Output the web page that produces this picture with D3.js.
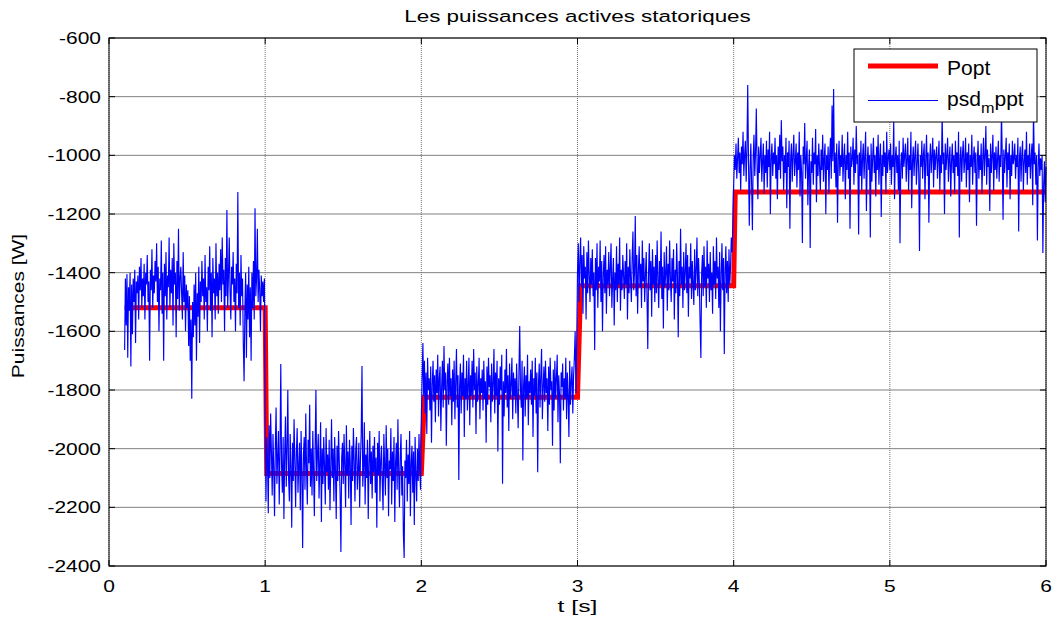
<!DOCTYPE html>
<html>
<head>
<meta charset="utf-8">
<script src="https://cdn.jsdelivr.net/npm/d3@7"></script>
<style>
  body { margin: 0; background: #fff; }
  text { font-family: "Liberation Sans", Arial, sans-serif; fill: #000; }
</style>
</head>
<body>
<div id="chart"></div>
<script>
// Les puissances actives statoriques — Popt step reference vs measured psd_mppt

const xTicks = [0, 1, 2, 3, 4, 5, 6];
const yTicks = [-2400, -2200, -2000, -1800, -1600, -1400, -1200, -1000, -800, -600];

// Popt (red step)
const poptT = [0.10, 1.00, 1.01, 2.00, 2.02, 3.00, 3.02, 4.00, 4.01, 6.00];
const poptP = [-1520, -1520, -2085, -2085, -1825, -1825, -1445, -1445, -1125, -1125];

// psd_mppt (blue), one sample every dt seconds, one array per operating point
const dt = 0.005;
const seg1Start = 0.10;
const seg1 = [
  -1664,-1420,-1580,-1405,-1690,-1450,-1530,-1400,-1720,-1440,-1610,-1420,-1500,-1390,-1640,-1430,-1470,-1410,-1560,-1380,
  -1460,-1350,-1520,-1420,-1480,-1370,-1560,-1400,-1440,-1340,-1500,-1430,-1700,-1390,-1460,-1320,-1520,-1410,-1470,-1360,
  -1430,-1300,-1500,-1380,-1600,-1420,-1460,-1290,-1540,-1400,-1700,-1370,-1480,-1330,-1560,-1410,-1450,-1280,-1520,-1390,
  -1470,-1350,-1580,-1300,-1440,-1400,-1620,-1360,-1490,-1250,-1530,-1420,-1380,-1470,-1560,-1330,-1500,-1410,-1600,-1440,
  -1520,-1460,-1650,-1480,-1700,-1560,-1830,-1500,-1620,-1440,-1580,-1400,-1700,-1470,-1550,-1380,-1640,-1430,-1500,-1360,
  -1480,-1420,-1560,-1340,-1500,-1450,-1600,-1380,-1460,-1310,-1530,-1400,-1620,-1350,-1470,-1420,-1560,-1300,-1480,-1400,
  -1540,-1370,-1460,-1320,-1500,-1280,-1440,-1390,-1600,-1350,-1480,-1186,-1520,-1410,-1280,-1460,-1560,-1380,-1440,-1330,
  -1500,-1420,-1600,-1370,-1470,-1125,-1520,-1400,-1580,-1340,-1480,-1420,-1640,-1770,-1530,-1400,-1690,-1440,-1560,-1380,
  -1620,-1450,-1700,-1400,-1520,-1360,-1560,-1180,-1480,-1420,-1250,-1500,-1390,-1460,-1600,-1410,-1480,-1430,-1500,-1420
];
const seg2Start = 1.00;
const seg2 = [
  -1900,-2180,-1960,-2040,-2220,-1920,-2100,-1880,-2010,-2160,-1950,-2070,-2230,-1990,-1860,-2120,-2030,-1940,-2190,-2010,
  -1711,-2060,-2150,-1960,-2240,-2020,-1890,-2130,-2000,-1800,-2100,-2180,-1950,-2060,-2270,-1980,-2110,-1900,-2040,-2200,
  -2010,-1930,-2150,-2060,-1980,-2210,-1940,-2090,-2339,-2020,-1960,-2140,-1880,-2070,-2190,-1970,-2050,-1850,-2130,-2000,
  -2160,-1940,-2080,-2230,-1990,-1800,-2110,-2020,-1950,-2170,-2050,-1910,-2250,-2000,-2120,-1960,-2060,-2190,-1930,-2080,
  -2020,-2140,-1970,-2210,-2060,-1900,-2100,-2000,-2180,-1960,-2070,-2240,-1990,-2110,-1940,-2050,-2160,-2352,-2030,-1980,
  -2120,-1950,-2060,-2200,-1920,-2090,-2010,-2170,-1970,-2050,-2260,-1990,-2110,-1930,-2040,-2180,-2000,-1960,-2140,-2070,
  -1980,-2200,-2040,-1950,-1718,-2130,-2060,-1910,-2190,-2020,-2100,-1970,-2240,-2050,-1940,-2120,-2010,-2170,-1990,-2080,
  -1960,-2150,-2030,-2270,-1980,-2090,-1940,-2180,-2040,-1990,-2120,-2210,-1950,-2060,-2160,-1920,-2100,-2000,-2230,-2040,
  -2070,-1930,-2190,-2010,-2110,-1960,-2250,-2050,-1980,-2140,-1900,-2080,-2200,-2020,-1950,-2160,-2060,-2290,-2373,-2040,
  -2100,-1970,-2180,-2020,-2120,-1940,-2230,-2050,-1990,-2150,-2010,-2260,-1960,-2090,-2180,-2000,-2110,-1950,-2070,-2140
];
const seg3Start = 2.00;
const seg3 = [
  -1900,-1760,-1640,-1820,-1700,-1880,-1740,-1950,-1690,-1800,-1760,-1870,-1720,-1980,-1780,-1700,-1840,-1750,-1910,-1730,
  -1810,-1680,-1890,-1760,-1720,-1940,-1790,-1700,-1860,-1650,-1800,-1740,-1990,-1770,-1710,-1850,-1690,-1820,-1760,-1920,
  -1730,-1840,-1700,-1900,-1770,-1660,-1860,-1750,-2107,-1790,-1710,-1880,-1740,-1820,-1680,-1960,-1760,-1830,-1700,-1870,
  -1780,-1690,-1920,-1750,-1820,-1700,-1860,-1660,-1800,-1740,-1950,-1720,-1840,-1780,-1690,-1900,-1760,-1810,-1730,-1870,
  -1700,-1830,-1770,-1980,-1720,-1850,-1690,-1790,-1750,-1910,-1710,-1840,-1780,-1660,-1880,-1740,-1820,-1700,-2010,-1760,
  -1850,-1720,-1800,-1680,-2120,-1770,-1890,-1730,-1810,-1660,-1860,-1750,-1940,-1710,-1830,-1780,-1690,-1900,-1740,-1820,
  -1760,-1880,-1710,-1820,-1930,-1740,-1582,-1800,-1860,-1700,-2040,-1780,-1720,-1890,-1750,-1830,-1680,-1920,-1770,-1810,
  -1730,-1850,-1700,-1960,-1760,-1820,-1690,-1880,-1740,-2080,-1780,-1710,-1860,-1750,-1660,-1900,-1790,-1720,-1840,-1700,
  -1810,-1760,-1940,-1720,-1850,-1690,-1800,-1770,-1990,-1730,-1870,-1700,-1830,-1760,-1680,-1910,-1750,-1820,-2050,-1740,
  -1790,-1710,-1870,-1760,-1830,-1690,-1900,-1740,-1820,-1960,-1700,-1850,-1770,-1720,-1880,-1750,-1690,-1600,-1810,-1640
];
const seg4Start = 3.00;
const seg4 = [
  -1400,-1300,-1500,-1360,-1280,-1450,-1340,-1540,-1310,-1420,-1380,-1560,-1330,-1470,-1290,-1410,-1500,-1350,-1440,-1320,
  -1480,-1400,-1664,-1350,-1460,-1300,-1520,-1380,-1430,-1290,-1500,-1360,-1600,-1410,-1340,-1470,-1310,-1540,-1390,-1440,
  -1330,-1480,-1380,-1300,-1520,-1420,-1350,-1580,-1400,-1460,-1310,-1500,-1370,-1440,-1280,-1530,-1390,-1460,-1340,-1410,
  -1490,-1360,-1440,-1300,-1560,-1380,-1470,-1320,-1420,-1500,-1350,-1260,-1460,-1400,-1207,-1480,-1340,-1540,-1390,-1310,
  -1450,-1370,-1520,-1290,-1430,-1350,-1500,-1410,-1330,-1480,-1660,-1400,-1300,-1460,-1360,-1550,-1320,-1440,-1380,-1500,
  -1340,-1470,-1290,-1420,-1520,-1360,-1440,-1260,-1490,-1380,-1590,-1330,-1450,-1400,-1310,-1530,-1370,-1460,-1290,-1420,
  -1500,-1350,-1430,-1320,-1560,-1390,-1470,-1300,-1410,-1620,-1360,-1480,-1250,-1440,-1380,-1520,-1330,-1460,-1400,-1300,
  -1470,-1340,-1550,-1380,-1420,-1300,-1490,-1360,-1440,-1510,-1320,-1460,-1390,-1280,-1480,-1350,-1430,-1570,-1691,-1400,
  -1340,-1480,-1310,-1450,-1380,-1520,-1290,-1420,-1370,-1500,-1330,-1460,-1400,-1540,-1310,-1440,-1360,-1490,-1280,-1420,
  -1380,-1520,-1330,-1600,-1410,-1300,-1460,-1350,-1677,-1390,-1310,-1470,-1360,-1500,-1320,-1440,-1380,-1280,-1330,-1240
];
const seg5Start = 4.00;
const seg5 = [
  -1100,-1000,-1050,-960,-1080,-1010,-940,-1060,-990,-1120,-970,-1030,-920,-1070,-1000,-950,-1090,-980,-760,-1020,
  -1240,-1050,-960,-1100,-1255,-1010,-930,-1070,-990,-840,-1040,-1150,-970,-1060,-1000,-940,-1090,-1020,-960,-1130,
  -1000,-1060,-950,-1110,-980,-1040,-920,-1200,-1010,-960,-1070,-990,-1030,-940,-1080,-1000,-1150,-970,-1050,-930,
  -1080,-880,-1020,-970,-1120,-1000,-1060,-940,-1180,-990,-1040,-950,-1250,-1010,-960,-1090,-1000,-930,-1070,-1020,
  -960,-1110,-990,-1050,-920,-1140,-1000,-1060,-1299,-970,-1030,-890,-1080,-1010,-950,-1170,-1040,-980,-1316,-1020,
  -1060,-940,-1100,-990,-1030,-910,-1160,-1000,-1070,-960,-1040,-1120,-980,-1050,-930,-1090,-1010,-960,-1200,-1000,
  -1050,-970,-1130,-1000,-940,-1080,-830,-1020,-774,-1060,-990,-1110,-960,-1230,-1010,-950,-1070,-1000,-1040,-930,
  -1090,-1010,-960,-1150,-1000,-1050,-920,-1080,-990,-1250,-970,-1040,-1010,-940,-1100,-980,-1060,-900,-1030,-1000,
  -1270,-990,-1070,-950,-1120,-1010,-960,-1080,-1000,-920,-1190,-1030,-970,-1050,-1000,-1280,-960,-1090,-1010,-940,
  -1060,-1000,-1140,-970,-1050,-930,-1100,-1010,-960,-1210,-1000,-1070,-950,-1040,-990,-1130,-920,-1060,-1010,-980,
  -1050,-960,-1100,-1000,-1040,-880,-1150,-1010,-970,-1060,-1000,-1120,-950,-1300,-1030,-990,-1080,-940,-1040,-1000,
  -960,-1090,-1010,-940,-1120,-1000,-1050,-920,-1180,-1020,-970,-1070,-1000,-950,-1100,-1030,-960,-1060,-1326,-1000,
  -1040,-950,-1080,-1000,-960,-1150,-1010,-930,-1070,-990,-1230,-1020,-960,-1060,-1000,-940,-1110,-980,-1050,-1000,
  -970,-1080,-1010,-950,-1120,-1000,-1060,-860,-1030,-990,-1200,-960,-1050,-1000,-940,-1090,-1010,-970,-1140,-1020,
  -960,-1060,-1000,-1130,-950,-1040,-990,-1070,-920,-1280,-1010,-970,-1090,-1000,-950,-1060,-1020,-940,-1110,-990,
  -1050,-960,-1160,-1000,-1040,-930,-1100,-1010,-970,-1060,-990,-1240,-1020,-950,-1080,-1000,-1050,-960,-1130,-1010,
  -940,-1070,-1000,-900,-1100,-980,-1040,-1010,-1190,-960,-1060,-1000,-930,-1120,-990,-1050,-970,-1080,-1010,-950,
  -1090,-1000,-1040,-850,-1010,-1220,-980,-1060,-1000,-940,-1110,-990,-1050,-960,-1150,-1000,-1070,-950,-1030,-1010,
  -960,-1080,-1000,-1040,-940,-1260,-1010,-970,-1090,-1000,-950,-1120,-1020,-980,-1060,-920,-1100,-1000,-1040,-960,
  -1080,-1010,-960,-1170,-840,-1030,-990,-1100,-1000,-1290,-1040,-960,-1070,-1010,-1050,-1000,-1333,-1100,-1020,-1160,
  -1040
];

const W = 1056, H = 625;
const margin = { top: 38, right: 10, bottom: 59, left: 109 };
const fontSize = 16.5, stretch = 1.27;   // the reference font is noticeably wide

const x = d3.scaleLinear().domain([0, 6]).range([margin.left, W - margin.right]);
const y = d3.scaleLinear().domain([-2400, -600]).range([H - margin.bottom, margin.top]);

const popt = poptT.map((t, i) => ({ t, p: poptP[i] }));
const segs = [[seg1Start, seg1], [seg2Start, seg2], [seg3Start, seg3], [seg4Start, seg4], [seg5Start, seg5]];
const psd = segs.flatMap(([t0, vals]) => vals.map((v, i) => ({ t: t0 + i * dt, p: v })));

const svg = d3.select("#chart").append("svg")
  .attr("width", W).attr("height", H);

svg.append("rect").attr("width", W).attr("height", H).attr("fill", "#fff");

const [x0, x1] = x.range();
const [yb, yt] = y.range();

// grid
const grid = svg.append("g");
grid.selectAll("line.h").data(yTicks).enter().append("line")
  .attr("x1", x0).attr("x2", x1)
  .attr("y1", d => y(d)).attr("y2", d => y(d))
  .attr("stroke", "#808080").attr("stroke-width", 1);
grid.selectAll("line.v").data(xTicks).enter().append("line")
  .attr("y1", yt).attr("y2", yb)
  .attr("x1", d => x(d)).attr("x2", d => x(d))
  .attr("stroke", "#707070").attr("stroke-width", 1)
  .attr("stroke-dasharray", "1,1");

// series
const line = d3.line().x(d => x(d.t)).y(d => y(d.p));

svg.append("path").datum(popt)
  .attr("d", line)
  .attr("fill", "none").attr("stroke", "#ff0000")
  .attr("stroke-width", 5).attr("stroke-linejoin", "miter");

svg.append("path").datum(psd)
  .attr("d", line)
  .attr("fill", "none").attr("stroke", "#0000ff")
  .attr("stroke-width", 1.15);

// frame + inward ticks (MATLAB box style)
const axes = svg.append("g").attr("stroke", "#000").attr("stroke-width", 1);
axes.append("rect").attr("x", x0).attr("y", yt).attr("width", x1 - x0).attr("height", yb - yt)
  .attr("fill", "none");
const tk = 6;
yTicks.forEach(v => {
  axes.append("line").attr("x1", x0).attr("x2", x0 + tk).attr("y1", y(v)).attr("y2", y(v));
  axes.append("line").attr("x1", x1).attr("x2", x1 - tk).attr("y1", y(v)).attr("y2", y(v));
});
xTicks.forEach(v => {
  axes.append("line").attr("x1", x(v)).attr("x2", x(v)).attr("y1", yb).attr("y2", yb - tk);
  axes.append("line").attr("x1", x(v)).attr("x2", x(v)).attr("y1", yt).attr("y2", yt + tk);
});

function label(px, py, str, anchor, size, sx, rot) {
  return svg.append("text")
    .attr("transform", `translate(${px},${py})${rot ? ` rotate(${rot})` : ""} scale(${sx},1)`)
    .attr("text-anchor", anchor)
    .style("font-size", size + "px")
    .text(str);
}

// plain hyphen for negatives, as in the original
yTicks.forEach(v => label(x0 - 8, y(v) + 6, String(v), "end", fontSize, stretch));
xTicks.forEach(v => label(x(v), 592, v, "middle", fontSize, stretch));

label((x0 + x1) / 2, 22, "Les puissances actives statoriques", "middle", fontSize, 1.36);
label((x0 + x1) / 2, 612, "t [s]", "middle", fontSize, 1.5);
label(24, 306, "Puissances [W]", "middle", fontSize, stretch, -90);

// legend
const lg = svg.append("g");
lg.append("rect").attr("x", 854).attr("y", 49).attr("width", 183).attr("height", 73)
  .attr("fill", "#fff").attr("stroke", "#000").attr("stroke-width", 1);
lg.append("line").attr("x1", 868).attr("x2", 938).attr("y1", 66).attr("y2", 66)
  .attr("stroke", "#ff0000").attr("stroke-width", 5);
lg.append("line").attr("x1", 868).attr("x2", 938).attr("y1", 100.5).attr("y2", 100.5)
  .attr("stroke", "#0000ff").attr("stroke-width", 1);
lg.append("text").attr("transform", "translate(947,75) scale(1.08,1)")
  .style("font-size", "19.5px").text("Popt");
const t2 = lg.append("text").attr("transform", "translate(947,106) scale(1.08,1)")
  .style("font-size", "19.5px");
t2.append("tspan").text("psd");
t2.append("tspan").attr("dy", 7).style("font-size", "15px").text("m");
t2.append("tspan").attr("dy", -7).text("ppt");
</script>
</body>
</html>
